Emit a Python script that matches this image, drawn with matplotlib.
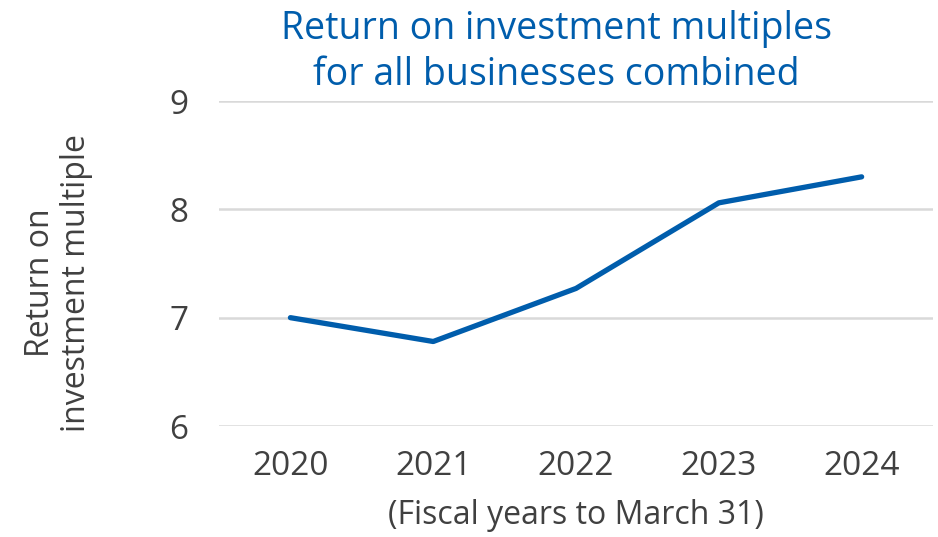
import matplotlib
matplotlib.use("Agg")
import matplotlib.pyplot as plt

# data
years = ["2020", "2021", "2022", "2023", "2024"]
roi_multiple = [7.00, 6.78, 7.27, 8.06, 8.30]
y_ticks = [6, 7, 8, 9]

BLUE = "#005DAC"
GREY_TEXT = "#404040"
GRID = "#D9D9D9"

plt.rcParams['font.family'] = ['Open Sans', 'DejaVu Sans']

fig = plt.figure(figsize=(9.38, 5.37), dpi=100)
ax = fig.add_axes([0.2335, 0.2067, 0.7612, 0.6052])

x = list(range(len(years)))
ax.plot(x, roi_multiple, color=BLUE, linewidth=3.8, solid_capstyle='round',
        solid_joinstyle='round', zorder=3)

ax.set_xlim(-0.5, len(years) - 0.5)
ax.set_ylim(6, 9)
ax.set_yticks(y_ticks)
ax.set_yticklabels([str(t) for t in y_ticks])
ax.set_xticks(x)
ax.set_xticklabels(years)

ax.grid(axis='y', color=GRID, linewidth=1.8, zorder=0)
ax.set_axisbelow(True)
for s in ax.spines.values():
    s.set_visible(False)
ax.tick_params(axis='both', length=0, labelsize=24, labelcolor=GREY_TEXT)
ax.tick_params(axis='y', pad=22)
ax.tick_params(axis='x', pad=17)

ax.set_xlabel("(Fiscal years to March 31)", fontsize=23, color=GREY_TEXT, labelpad=12)

fig.text(0.062, 1 - 283 / 537, "Return on\ninvestment multiple", rotation=90,
         ha='center', va='center', fontsize=23, color=GREY_TEXT, linespacing=1.12)

fig.text(0.593, 1 - 52 / 537, "Return on investment multiples\nfor all businesses combined",
         ha='center', va='center', fontsize=27, color=BLUE, linespacing=1.28)

fig.savefig("out.png", dpi=100)
